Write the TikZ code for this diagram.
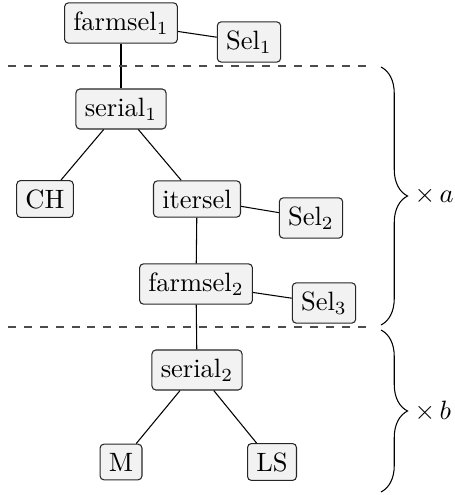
\documentclass[tikz,border=0pt]{standalone}
\usetikzlibrary{decorations.pathreplacing}
\begin{document}
\begin{tikzpicture}[x=0.3774pt,y=-0.3774pt,
  box/.style={draw=black!85, rounded corners=1.5pt, fill=gray!10, inner sep=3.33pt},
  sep/.style={dashed, draw=black!70},
  br/.style={decorate, decoration={brace, amplitude=10pt}}]
\useasboundingbox (0,0) rectangle (455,495);
\node[box] (f1) at (121,23) {farmsel$_1$};
\node[box] (s1) at (249,42) {Sel$_1$};
\node[box] (se1) at (121,109) {serial$_1$};
\node[box] (ch) at (45,199) {CH};
\node[box] (it) at (197,199) {itersel};
\node[box] (s2) at (311,218) {Sel$_2$};
\node[box] (f2) at (196,284) {farmsel$_2$};
\node[box] (s3) at (324,303) {Sel$_3$};
\node[box] (se2) at (197,370) {serial$_2$};
\node[box] (m) at (121,462) {M};
\node[box] (ls) at (272,462) {LS};
\draw (f1) -- (s1);
\draw (f1) -- (se1);
\draw (se1) -- (ch);
\draw (se1) -- (it);
\draw (it) -- (s2);
\draw (it) -- (f2);
\draw (f2) -- (s3);
\draw (f2) -- (se2);
\draw (se2) -- (m);
\draw (se2) -- (ls);
\coordinate (d1a) at (8,66);
\coordinate (d1b) at (372,66);
\coordinate (d2a) at (8,327);
\coordinate (d2b) at (372,327);
\draw[sep] (d1a) -- (d1b);
\draw[sep] (d2a) -- (d2b);
\coordinate (b1a) at (381,67);
\coordinate (b1b) at (381,325);
\coordinate (b2a) at (381,330);
\coordinate (b2b) at (381,492);
\draw[br] (b1a) -- (b1b);
\draw[br] (b2a) -- (b2b);
\node[anchor=west, inner sep=0pt] (la) at (414,196) {$\times\,a$};
\node[anchor=west, inner sep=0pt] (lb) at (414,411) {$\times\,b$};
\end{tikzpicture}
\end{document}
